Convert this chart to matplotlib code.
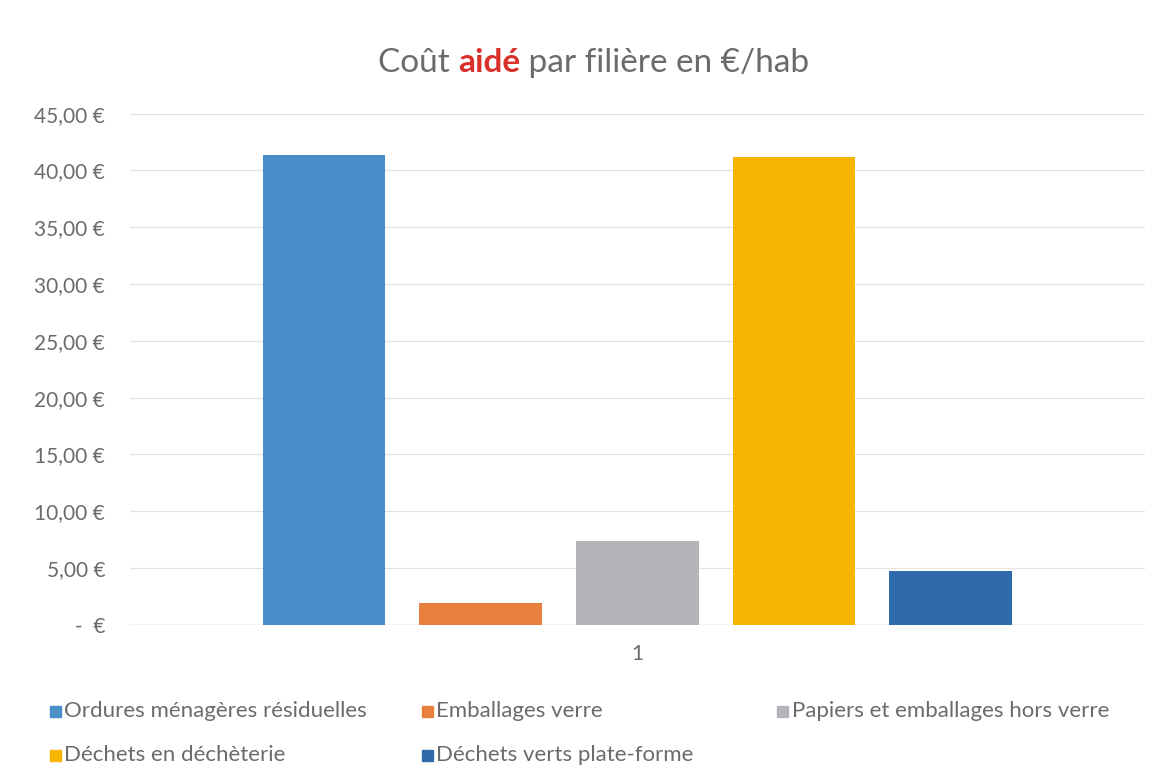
import numpy as np
import matplotlib.pyplot as plt
from matplotlib.patches import Rectangle
from matplotlib.ticker import FuncFormatter, MultipleLocator

plt.rcParams['font.family'] = ['Lato', 'DejaVu Sans']

# data
series = ['Ordures ménagères résiduelles', 'Emballages verre',
          'Papiers et emballages hors verre', 'Déchets en déchèterie',
          'Déchets verts plate-forme']
values = [41.35, 1.95, 7.4, 41.15, 4.75]
colors = ['#4a8fc9', '#e8813f', '#b3b3b9', '#f7b400', '#2f6aac']
category = ['1']

txt_col = '#6b6b6b'

fig = plt.figure(figsize=(11.62, 7.84), dpi=100)
ax = fig.add_axes([0.112, 0.203, 0.873, 0.652])

spacing = 0.1545
width = 0.121
for i, (name, v, c) in enumerate(zip(series, values, colors)):
    ax.bar((i - 2) * spacing, v, width=width, color=c, label=name, zorder=2)

ax.set_xlim(-0.5, 0.5)
ax.set_ylim(0, 45)
ax.yaxis.set_major_locator(MultipleLocator(5))

def fmt(v, pos):
    if v == 0:
        return '-  €'
    return ('%.2f' % v).replace('.', ',') + ' €'

ax.yaxis.set_major_formatter(FuncFormatter(fmt))
ax.set_xticks([0])
ax.set_xticklabels(category)
ax.tick_params(length=0, colors=txt_col, labelsize=15)
ax.tick_params(axis='x', pad=14)
ax.tick_params(axis='y', pad=18)
ax.grid(axis='y', color='#e2e2e2', linewidth=0.9, zorder=0)
for s in ax.spines.values():
    s.set_visible(False)
ax.axhline(0, color='#d9d9d9', linewidth=1, zorder=1)

# title in three pieces
parts = [('Coût ', txt_col, 'normal'), ('aidé', '#d9302a', 'bold'),
         (' par filière en €/hab', txt_col, 'normal')]
texts = []
x = 0.5
for s, c, w in parts:
    texts.append(fig.text(x, 0.908, s, color=c, fontweight=w, fontsize=24,
                          va='baseline', ha='left'))
fig.canvas.draw()
r = fig.canvas.get_renderer()
ws = [t.get_window_extent(r).width / fig.bbox.width for t in texts]
x = 0.511 - sum(ws) / 2
for t, wd in zip(texts, ws):
    t.set_x(x)
    x += wd

# legend laid out like the original (3 columns, row-wise)
leg_pos = [(0.043, 0.093), (0.363, 0.093), (0.669, 0.093),
           (0.043, 0.037), (0.363, 0.037)]
for (lx, ly), name, c in zip(leg_pos, series, colors):
    fig.patches.append(Rectangle((lx, ly - 0.0075), 0.0095, 0.014,
                                 transform=fig.transFigure, color=c))
    fig.text(lx + 0.0125, ly, name, color=txt_col, fontsize=16, va='center')

plt.savefig('out.png', dpi=100, facecolor='white')
